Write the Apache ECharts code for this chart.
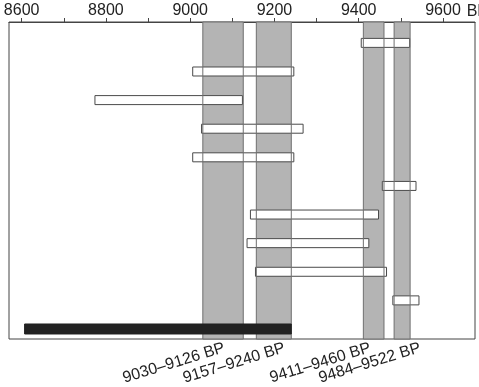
<!DOCTYPE html>
<html>
<head>
<meta charset="utf-8">
<script src="https://cdn.jsdelivr.net/npm/echarts@6/dist/echarts.min.js"></script>
<style>
  html, body { margin: 0; padding: 0; background: #fff; }
  #chart { width: 479px; height: 387px; }
</style>
</head>
<body>
<div id="chart"></div>
<script>
// Calibrated age ranges (years BP), one row each, top to bottom.
const rangeStart = [9406, 9006, 8774, 9027, 9006, 9456, 9143, 9135, 9155, 9481];
const rangeEnd   = [9521, 9246, 9124, 9268, 9246, 9536, 9447, 9424, 9466, 9543];
// Combined range drawn as the black bar on the last row.
const summaryRange = [8607, 9240];

// Shaded intervals and their captions.
const bandStart = [9030, 9157, 9411, 9484];
const bandEnd   = [9126, 9240, 9460, 9522];
const bandLabels = ["9030–9126 BP", "9157–9240 BP", "9411–9460 BP", "9484–9522 BP"];
const bandLabelAt = [9076, 9219, 9422, 9541];

const tickValues  = [8600, 8700, 8800, 8900, 9000, 9100, 9200, 9300, 9400, 9500, 9600];
const labelValues = [8600, 8800, 9000, 9200, 9400, 9600];

const X_MIN = 8570, X_MAX = 9676;
const Y_MIN = 0.27, Y_MAX = 11.35;
const FONT = '"Liberation Sans", Arial, sans-serif';

const rows = rangeStart.map((s, i) => [s, rangeEnd[i], i + 1]);
const bands = bandStart.map((s, i) => [s, bandEnd[i]]);

function bandRect(params, api) {
  const cs = params.coordSys;
  const a = api.coord([api.value(0), Y_MIN])[0];
  const b = api.coord([api.value(1), Y_MIN])[0];
  return { x: a, y: cs.y, width: b - a, height: cs.height };
}

function barItem(h, style) {
  return (params, api) => {
    const s = api.coord([api.value(0), api.value(2)]);
    const e = api.coord([api.value(1), api.value(2)]);
    return {
      type: "rect",
      shape: { x: s[0], y: s[1] - h / 2, width: e[0] - s[0], height: h },
      style: style
    };
  };
}

const chart = echarts.init(document.getElementById("chart"));
chart.setOption({
  animation: false,
  backgroundColor: "#fff",
  grid: {
    left: 9, right: 4, top: 22, bottom: 48,
    outerBoundsMode: "none",
    show: true, borderColor: "#444", borderWidth: 1
  },
  xAxis: {
    type: "value",
    position: "top",
    min: X_MIN,
    max: X_MAX,
    name: "BP",
    nameLocation: "end",
    nameGap: -10,
    nameTextStyle: { color: "#222", fontFamily: FONT, fontSize: 16, align: "left", verticalAlign: "bottom", padding: [0, 0, 2, 0] },
    axisLine: { show: true, lineStyle: { color: "#444" } },
    axisTick: { show: true, length: 4, customValues: tickValues, lineStyle: { color: "#444" } },
    axisLabel: {
      customValues: labelValues,
      formatter: (v) => String(v),
      margin: 3, color: "#222", fontFamily: FONT, fontSize: 16
    },
    splitLine: { show: false }
  },
  yAxis: { type: "value", inverse: true, min: Y_MIN, max: Y_MAX, show: false },
  series: [
    {
      // band fills, under the bars
      type: "custom",
      z: 1,
      data: bands,
      renderItem: (params, api) => ({
        type: "rect",
        shape: bandRect(params, api),
        style: { fill: "#b4b4b4", stroke: null }
      })
    },
    {
      type: "custom",
      z: 2,
      data: rows,
      encode: { x: [0, 1], y: 2 },
      renderItem: barItem(9, { fill: "#fff", stroke: "#4a4a4a", lineWidth: 1 })
    },
    {
      // band outlines, drawn over the white bars
      type: "custom",
      z: 3,
      data: bands,
      renderItem: (params, api) => ({
        type: "rect",
        shape: bandRect(params, api),
        style: { fill: null, stroke: "#6f6f6f", lineWidth: 1 }
      })
    },
    {
      // black summary bar on the last row
      type: "custom",
      z: 4,
      data: [[summaryRange[0], summaryRange[1], rows.length + 1]],
      encode: { x: [0, 1], y: 2 },
      renderItem: barItem(10, { fill: "#222", stroke: "#222", lineWidth: 1 })
    },
    {
      type: "custom",
      z: 5,
      clip: false,
      data: bandLabelAt.map((v, i) => [v, i]),
      renderItem: (params, api) => {
        const p = api.coord([api.value(0), Y_MAX]);
        return {
          type: "text",
          x: p[0],
          y: p[1] + 1,
          rotation: 17 * Math.PI / 180,
          style: {
            text: bandLabels[api.value(1)],
            fill: "#222",
            font: "16px " + FONT,
            textAlign: "right",
            textVerticalAlign: "top"
          }
        };
      }
    }
  ]
});
</script>
</body>
</html>
